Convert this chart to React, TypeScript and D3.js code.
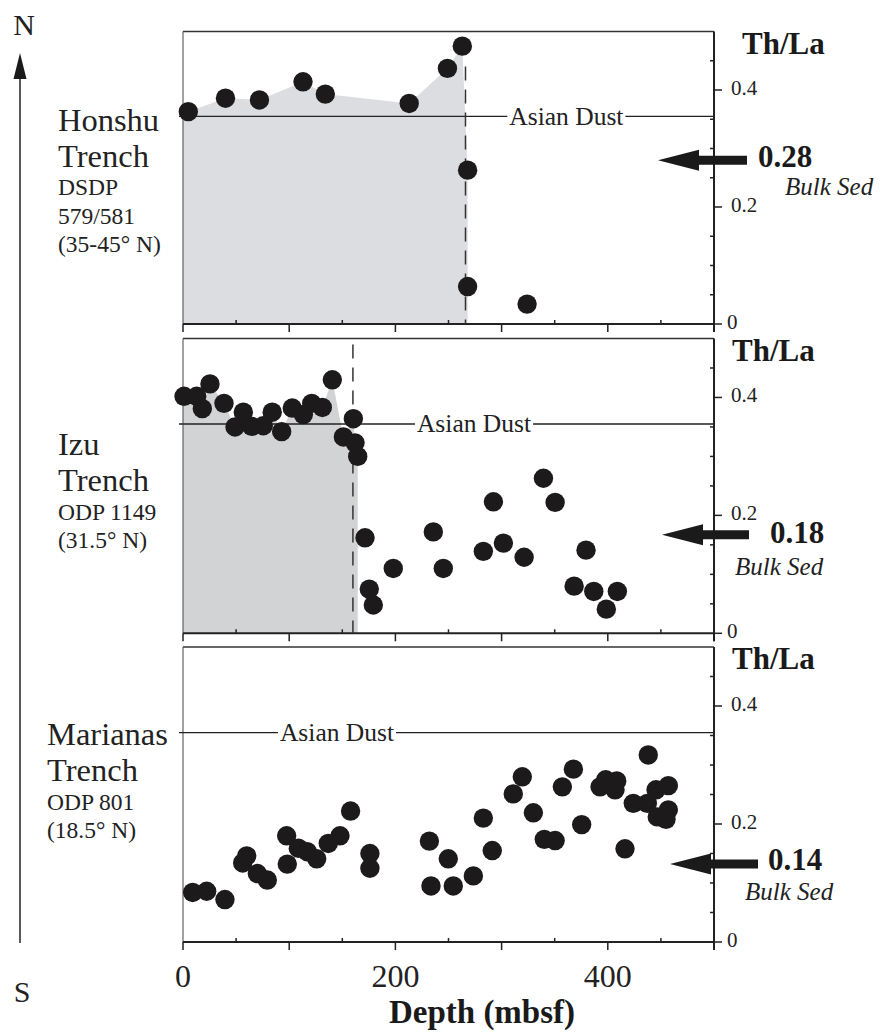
import { useEffect, useRef } from 'react';
import * as d3 from 'd3';

// Th/La vs depth (mbsf)
const honshuDepth = [5, 40, 72, 113, 134, 213, 249, 263, 268, 268, 324];
const honshuThLa = [0.363, 0.386, 0.383, 0.414, 0.393, 0.377, 0.437, 0.475, 0.263, 0.064, 0.034];

const izuDepth = [1, 12.9, 18.2, 25.4, 38.6, 49, 56.8, 64.7, 75.6, 84, 92.9, 102.9, 113.3, 121.2, 131.2, 140.6, 151, 160.4, 162, 164.5,
  171.4, 175.4, 179.2, 198, 235.7, 245.1, 282.8, 292.3, 301.7, 321.2, 339.4, 350.4, 368.3, 379.5, 386.8, 398.6, 409];
const izuThLa = [0.402, 0.402, 0.381, 0.423, 0.39, 0.35, 0.375, 0.351, 0.352, 0.375, 0.342, 0.382, 0.371, 0.39, 0.383, 0.43, 0.333, 0.364, 0.323, 0.3,
  0.162, 0.075, 0.048, 0.11, 0.172, 0.11, 0.139, 0.223, 0.153, 0.129, 0.263, 0.222, 0.08, 0.141, 0.071, 0.041, 0.071];

const marianasDepth = [9.1, 22.3, 39.5, 56.2, 60, 70, 79.4, 97.6, 98.2, 108.6, 117, 125.9, 136.8, 147.8, 157.8, 176, 176,
  232, 233.5, 249.8, 254.5, 273.4, 282.8, 291.2, 311, 319.5, 329.9, 340.2, 350.4, 357.2, 367.6, 375.4, 392.7, 398,
  406.8, 408.4, 416.2, 424, 437.2, 438.1, 445.4, 446.6, 454.8, 457, 457];
const marianasThLa = [0.084, 0.086, 0.072, 0.134, 0.146, 0.116, 0.105, 0.18, 0.132, 0.159, 0.153, 0.141, 0.167, 0.18, 0.222, 0.15, 0.125,
  0.171, 0.095, 0.141, 0.095, 0.112, 0.21, 0.155, 0.251, 0.28, 0.219, 0.174, 0.172, 0.263, 0.293, 0.199, 0.263, 0.275,
  0.258, 0.273, 0.158, 0.235, 0.235, 0.317, 0.258, 0.212, 0.208, 0.265, 0.224];

const siteNames = [
  ['Honshu', 'Trench'],
  ['Izu', 'Trench'],
  ['Marianas', 'Trench'],
];
const siteInfo = [
  ['DSDP', '579/581', '(35-45° N)'],
  ['ODP 1149', '(31.5° N)'],
  ['ODP 801', '(18.5° N)'],
];

const asianDust = 0.355;
const bulkSed = ['0.28', '0.18', '0.14'];
const bulkArrowAt = [0.28, 0.167, 0.132];
const dashedDepth = [266, 160];
const dashedTop = [0.44, 0.49];
const shadeEnd = [268, 165];
const dustLabelDepth = [361, 274, 145];
const yTickLabels = [0, 0.2, 0.4];
const xTickLabels = [0, 200, 400];

const serif = "'Liberation Serif', 'Times New Roman', Times, serif";

// layout per panel
const panelTop = [31.5, 338.5, 647];
const panelBottom = [324, 633.3, 942];
const nameX = [58, 58, 47];
const nameBaseline = [130.7, 455, 745];
const arrowTip = [658, 662, 670];
const arrowEnd = [747, 749, 758];
const valueX = [758, 770, 768];
const valueDy = [7, 8, 6];
const bulkX = [785, 735, 745];
const bulkDy = [35, 40, 36];
const thlaX = [742, 732, 732];

interface Pt { depth: number; v: number }

export default function App() {
  const ref = useRef<SVGSVGElement>(null);

  useEffect(() => {
    document.body.style.margin = '0';
    if (!ref.current) return;
    const svg = d3.select(ref.current);
    svg.selectAll('*').remove();

    const x = d3.scaleLinear().domain([0, 500]).range([183, 714]);
    const sites: Pt[][] = [
      honshuDepth.map((d, i) => ({ depth: d, v: honshuThLa[i] })),
      izuDepth.map((d, i) => ({ depth: d, v: izuThLa[i] })),
      marianasDepth.map((d, i) => ({ depth: d, v: marianasThLa[i] })),
    ];
    const shadeColor = ['#dcdde0', '#d2d3d5'];

    sites.forEach((pts, p) => {
      const y = d3.scaleLinear().domain([0, 0.5]).range([panelBottom[p], panelTop[p]]);
      const g = svg.append('g');

      // shaded dust-dominated interval
      if (p < 2) {
        const inShade = pts.filter(d => d.depth <= shadeEnd[p]);
        const shadePts = [{ depth: 0, v: inShade[0].v }, ...inShade];
        const area = d3.area<Pt>()
          .x(d => x(d.depth))
          .y0(y(0))
          .y1(d => y(d.v));
        g.append('path')
          .datum(shadePts)
          .attr('fill', shadeColor[p])
          .attr('d', area);
      }

      // frame
      g.append('line').attr('x1', x(0)).attr('x2', x(500)).attr('y1', y(0.5)).attr('y2', y(0.5))
        .attr('stroke', '#333').attr('stroke-width', 1.3);
      g.append('line').attr('x1', x(0)).attr('x2', x(0)).attr('y1', y(0.5)).attr('y2', y(0))
        .attr('stroke', '#555').attr('stroke-width', 1.1);
      g.append('line').attr('x1', x(0)).attr('x2', x(500) + 1).attr('y1', y(0)).attr('y2', y(0))
        .attr('stroke', '#222').attr('stroke-width', 2);
      g.append('line').attr('x1', x(500)).attr('x2', x(500)).attr('y1', y(0.5)).attr('y2', y(0) + 8)
        .attr('stroke', '#222').attr('stroke-width', 2);

      // bottom ticks
      d3.range(0, 501, 50).forEach(t => {
        const major = t % 100 === 0;
        g.append('line')
          .attr('x1', x(t)).attr('x2', x(t))
          .attr('y1', y(0)).attr('y2', major ? y(0) + 8 : y(0) - 4)
          .attr('stroke', '#222').attr('stroke-width', 1.5);
      });
      // right ticks
      d3.range(0, 10).forEach(k => {
        const t = k * 0.05;
        const major = k % 4 === 0;
        g.append('line')
          .attr('x1', x(500)).attr('x2', major ? x(500) + 8 : x(500) - 4)
          .attr('y1', y(t)).attr('y2', y(t))
          .attr('stroke', '#222').attr('stroke-width', 1.5);
      });
      yTickLabels.forEach(t => {
        g.append('text')
          .attr('x', t === 0 ? 727 : 731)
          .attr('y', y(t) + 5)
          .style('font-family', serif)
          .style('font-size', '21px')
          .style('fill', '#222')
          .text(t === 0 ? '0' : t.toFixed(1));
      });

      // Th/La
      g.append('text')
        .attr('x', thlaX[p])
        .attr('y', panelTop[p] + 22)
        .style('font-family', serif)
        .style('font-size', '31px')
        .style('font-weight', 'bold')
        .style('fill', '#1a1a1a')
        .text('Th/La');

      // Asian dust line, broken around its label
      g.append('line')
        .attr('x1', x(0) - 4).attr('x2', x(500))
        .attr('y1', y(asianDust)).attr('y2', y(asianDust))
        .attr('stroke', '#222').attr('stroke-width', 1.3);
      const gap = g.append('rect').attr('fill', '#fff');
      const dust = g.append('text')
        .attr('x', x(dustLabelDepth[p]))
        .attr('y', y(asianDust) + 8.5)
        .attr('text-anchor', 'middle')
        .style('font-family', serif)
        .style('font-size', '25.5px')
        .style('fill', '#222')
        .text('Asian Dust');
      const bb = (dust.node() as SVGTextElement).getBBox();
      gap.attr('x', bb.x - 2).attr('y', y(asianDust) - 3).attr('width', bb.width + 4).attr('height', 6);

      // dashed boundary
      if (p < 2) {
        g.append('line')
          .attr('x1', x(dashedDepth[p])).attr('x2', x(dashedDepth[p]))
          .attr('y1', y(dashedTop[p])).attr('y2', y(0))
          .attr('stroke', '#333').attr('stroke-width', 1.5)
          .attr('stroke-dasharray', '14,9');
      }

      // samples
      g.selectAll('.dot')
        .data(pts)
        .enter()
        .append('circle')
        .attr('cx', d => x(d.depth))
        .attr('cy', d => y(d.v))
        .attr('r', 9.7)
        .style('fill', '#1c1a1b');

      // bulk sediment arrow
      const ay = y(bulkArrowAt[p]);
      const tip = arrowTip[p];
      const base = tip + 41;
      const end = arrowEnd[p];
      g.append('path')
        .attr('d', `M${tip},${ay} L${base},${ay - 10.5} L${base},${ay - 4.5} L${end},${ay - 4.5} L${end},${ay + 4.5} L${base},${ay + 4.5} L${base},${ay + 10.5} Z`)
        .style('fill', '#1a1a1a');
      g.append('text')
        .attr('x', valueX[p])
        .attr('y', ay + valueDy[p])
        .style('font-family', serif)
        .style('font-size', '31px')
        .style('font-weight', 'bold')
        .style('fill', '#1a1a1a')
        .text(bulkSed[p]);
      g.append('text')
        .attr('x', bulkX[p])
        .attr('y', ay + bulkDy[p])
        .style('font-family', serif)
        .style('font-size', '25px')
        .style('font-style', 'italic')
        .style('fill', '#222')
        .text('Bulk Sed');

      // site labels
      const lab = g.append('text')
        .style('font-family', serif)
        .style('fill', '#222');
      siteNames[p].forEach((s, i) => {
        lab.append('tspan')
          .attr('x', nameX[p])
          .attr('y', nameBaseline[p] + i * 36)
          .style('font-size', '32.5px')
          .text(s);
      });
      siteInfo[p].forEach((s, i) => {
        lab.append('tspan')
          .attr('x', nameX[p])
          .attr('y', nameBaseline[p] + 36 + 28.5 * (i + 1))
          .style('font-size', '23.5px')
          .text(s);
      });
    });

    // x axis labels (bottom panel only)
    const yb = panelBottom[2];
    xTickLabels.forEach(t => {
      svg.append('text')
        .attr('x', x(t))
        .attr('y', yb + 45)
        .attr('text-anchor', 'middle')
        .style('font-family', serif)
        .style('font-size', '32px')
        .style('fill', '#222')
        .text(t);
    });
    svg.append('text')
      .attr('x', 482)
      .attr('y', 1023)
      .attr('text-anchor', 'middle')
      .style('font-family', serif)
      .style('font-size', '33px')
      .style('font-weight', 'bold')
      .style('fill', '#1a1a1a')
      .text('Depth (mbsf)');

    // north-south arrow
    svg.append('line')
      .attr('x1', 20).attr('x2', 20).attr('y1', 75).attr('y2', 943)
      .attr('stroke', '#222').attr('stroke-width', 1.5);
    svg.append('path')
      .attr('d', 'M20,53 L13.5,79 L26.5,79 Z')
      .style('fill', '#1a1a1a');
    svg.append('text')
      .attr('x', 24).attr('y', 35)
      .attr('text-anchor', 'middle')
      .style('font-family', serif)
      .style('font-size', '30px')
      .style('fill', '#222')
      .text('N');
    svg.append('text')
      .attr('x', 22).attr('y', 1002)
      .attr('text-anchor', 'middle')
      .style('font-family', serif)
      .style('font-size', '30px')
      .style('fill', '#222')
      .text('S');
  }, []);

  return <svg ref={ref} width={880} height={1032} style={{ display: 'block', background: '#fff' }} />;
}
